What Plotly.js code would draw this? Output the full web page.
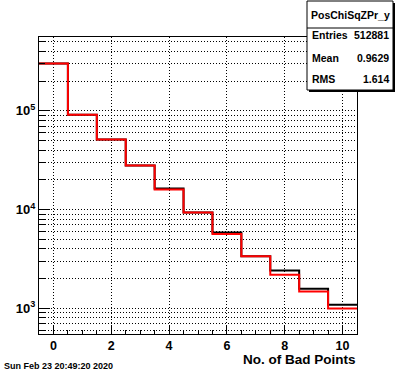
<!DOCTYPE html>
<html>
<head>
<meta charset="utf-8">
<script src="https://cdn.plot.ly/plotly-3.0.1.min.js"></script>
<style>
  html, body { margin: 0; padding: 0; background: #fff; }
  #chart { width: 396px; height: 372px; }
</style>
</head>
<body>
<div id="chart"></div>
<script>
// ---- data ----
const binCenters = [0, 1, 2, 3, 4, 5, 6, 7, 8, 9, 10];
const blackCounts = [301000, 91000, 51200, 27900, 16300, 9330, 5850, 3370, 2410, 1574, 1084];
const redCounts   = [301000, 91000, 51200, 27900, 15900, 9330, 5640, 3370, 2180, 1480, 995];
const xTickVals = [0, 2, 4, 6, 8, 10];
const yTickVals = [1e3, 1e4, 1e5];
const yTickText = ['10<sup>3</sup>', '10<sup>4</sup>', '10<sup>5</sup>'];
const histName = 'PosChiSqZPr_y';
const statsLabels = ['Entries', 'Mean', 'RMS'];
const statsValues = ['512881', '0.9629', '1.614'];
const xTitle = 'No. of Bad Points';
const dateText = 'Sun Feb 23 20:49:20 2020';

// bin edges from bin centres (width 1)
function stepX(c) { const e = c.map(v => v - 0.5); e.push(c[c.length - 1] + 0.5); return e; }
function stepY(v) { const y = v.slice(); y.push(v[v.length - 1]); return y; }

// minor log ticks 2..9 per decade
const yMinor = [];
for (let d = 2; d <= 5; d++) for (let m = 2; m <= 9; m++) yMinor.push(m * Math.pow(10, d));

// layout geometry (pixels)
const L = 39, T = 37, W = 318, H = 297;
const px = p => (p - L) / W;
const py = p => (T + H - p) / H;

const FONT = 'Liberation Sans, Arial, Helvetica, sans-serif';

const traces = [
  { x: stepX(binCenters), y: stepY(blackCounts), type: 'scatter', mode: 'lines',
    line: { shape: 'hv', color: '#000000', width: 2 }, hoverinfo: 'skip' },
  { x: stepX(binCenters), y: stepY(redCounts), type: 'scatter', mode: 'lines',
    line: { shape: 'hv', color: '#ff0000', width: 2 }, hoverinfo: 'skip' }
];

const dotted = '1px,2px';

const layout = {
  width: 396, height: 372,
  margin: { l: L, r: 396 - L - W, t: T, b: 372 - T - H, pad: 0 },
  paper_bgcolor: '#ffffff', plot_bgcolor: '#ffffff',
  showlegend: false,
  xaxis: {
    range: [-0.5, 10.5], tickmode: 'array', tickvals: xTickVals,
    ticks: 'inside', ticklen: 8, tickwidth: 1, tickcolor: '#000',
    showline: true, linecolor: '#000', linewidth: 1, mirror: true,
    showgrid: true, gridcolor: '#000', gridwidth: 1, griddash: dotted,
    zeroline: false, automargin: false,
    tickfont: { family: FONT, size: 12.5, weight: 'bold', color: '#000' },
    minor: { dtick: 0.5, tick0: 0, ticks: 'inside', ticklen: 4, tickcolor: '#000', showgrid: false }
  },
  yaxis: {
    type: 'log', range: [2.739, 5.747], tickmode: 'array', tickvals: yTickVals, ticktext: yTickText,
    ticks: 'inside', ticklen: 11, tickwidth: 1, tickcolor: '#000',
    showline: true, linecolor: '#000', linewidth: 1, mirror: true,
    showgrid: true, gridcolor: '#000', gridwidth: 1, griddash: dotted,
    zeroline: false, automargin: false,
    tickfont: { family: FONT, size: 13, weight: 'bold', color: '#000' },
    minor: { tickmode: 'array', tickvals: yMinor, ticks: 'inside', ticklen: 6, tickcolor: '#000',
             showgrid: true, gridcolor: '#000', gridwidth: 1, griddash: dotted }
  },
  shapes: [
    { type: 'rect', xref: 'paper', yref: 'paper', layer: 'above',
      x0: px(309), x1: px(395), y0: py(3), y1: py(92),
      fillcolor: '#000', line: { width: 0 } },
    { type: 'rect', xref: 'paper', yref: 'paper', layer: 'above',
      x0: px(307), x1: px(393), y0: py(1), y1: py(90),
      fillcolor: '#fff', line: { color: '#000', width: 1 } },
    { type: 'line', xref: 'paper', yref: 'paper', layer: 'above',
      x0: px(307), x1: px(393), y0: py(28), y1: py(28),
      line: { color: '#000', width: 1 } }
  ],
  annotations: [
    { text: histName, xref: 'paper', yref: 'paper', x: px(350), y: py(15),
      xanchor: 'center', yanchor: 'middle', showarrow: false,
      font: { family: FONT, size: 10.5, weight: 'bold', color: '#000' } },
    { text: xTitle, xref: 'paper', yref: 'paper', x: px(357), y: py(359.5),
      xanchor: 'right', yanchor: 'middle', showarrow: false, borderpad: 0,
      font: { family: FONT, size: 13.5, weight: 'bold', color: '#000' } },
    { text: dateText, xref: 'paper', yref: 'paper', x: px(2), y: py(366),
      xanchor: 'left', yanchor: 'middle', showarrow: false,
      font: { family: FONT, size: 9, weight: 'bold', color: '#000' } }
  ]
};

const rowY = [35, 58, 79];
statsLabels.forEach((lab, i) => {
  layout.annotations.push({ text: lab, xref: 'paper', yref: 'paper', x: px(310), y: py(rowY[i]),
    xanchor: 'left', yanchor: 'middle', showarrow: false,
    font: { family: FONT, size: 10.5, weight: 'bold', color: '#000' } });
  layout.annotations.push({ text: statsValues[i], xref: 'paper', yref: 'paper', x: px(391), y: py(rowY[i]),
    xanchor: 'right', yanchor: 'middle', showarrow: false,
    font: { family: FONT, size: 10.5, weight: 'bold', color: '#000' } });
});

Plotly.newPlot('chart', traces, layout, { staticPlot: true, displayModeBar: false });
</script>
</body>
</html>
